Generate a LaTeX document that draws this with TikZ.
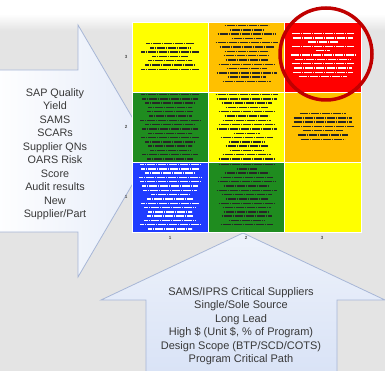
\documentclass[tikz,border=0pt]{standalone}
\usepackage{fontspec}
\setmainfont{Liberation Sans}
\definecolor{bggray}{HTML}{E4E4E4}
\definecolor{arrowblue}{HTML}{D8E2F6}
\definecolor{arrowedge}{HTML}{A7B6D6}
\definecolor{txtgray}{HTML}{383838}
\definecolor{riskyellow}{HTML}{FFFF00}
\definecolor{riskorange}{HTML}{FFC000}
\definecolor{riskred}{HTML}{FF0000}
\definecolor{riskgreen}{HTML}{1F8C1F}
\definecolor{riskblue}{HTML}{1F3CFF}
\definecolor{ringred}{HTML}{C00000}
\newcommand{\cellnotes}[4]{%
  \foreach \w [count=\i] in {#4}
    \draw[blur, #3] ([shift={({-\w/2},{#2+4.3*(\i-1)})}]#1.north) -- ++(\w,0);}
\begin{document}
\begin{tikzpicture}[x=1pt,y=-1pt,
    cell/.style={draw=white, line width=0.8pt, minimum width=76.3pt, minimum height=70pt, inner sep=0pt},
    blur/.style={line width=1.4pt, dash pattern=on 1.8pt off 0.4pt},
    drivertext/.style={align=center, text=txtgray, font=\fontsize{10.8}{13.5}\selectfont},
    ticklabel/.style={font=\bfseries\fontsize{4.5}{5}\selectfont, text=black!70, inner sep=0pt}]
	\useasboundingbox (0,0) rectangle (385,371);

	% background
	\fill[white] (0,0) rectangle (385,371);
	\fill[bggray] (0,30) rectangle (385,371);
	\shade[top color=white, bottom color=bggray] (0,14) rectangle (385,30.5);

	% arrows
	\shade[left color=white, middle color=arrowblue, right color=arrowblue!70!white, draw=arrowedge, line width=0.8pt]
		(-10,70) -- (78,70) -- (78,25) -- (152,151) -- (78,277) -- (78,232) -- (-10,232) -- cycle;
	\shade[top color=arrowblue!45!white, bottom color=arrowblue, draw=arrowedge, line width=0.8pt]
		(146,380) -- (146,300) -- (101,300) -- (243,233) -- (385,300) -- (337,300) -- (337,380) -- cycle;

	% matrix
	\node[cell, fill=riskyellow] (c11) at (170.2,57) {};
	\node[cell, fill=riskorange] (c12) at (246.5,57) {};
	\node[cell, fill=riskred] (c13) at (322.8,57) {};
	\node[cell, fill=riskgreen] (c21) at (170.2,127) {};
	\node[cell, fill=riskyellow] (c22) at (246.5,127) {};
	\node[cell, fill=riskorange] (c23) at (322.8,127) {};
	\node[cell, fill=riskblue] (c31) at (170.2,197) {};
	\node[cell, fill=riskgreen] (c32) at (246.5,197) {};
	\node[cell, fill=riskyellow] (c33) at (322.8,197) {};

	% cell contents
	\cellnotes{c11}{22}{black!85}{48,40,58,36,44,50,58}
	\cellnotes{c12}{4}{black!85}{44,34,58,30,62,54,44,46,42,56,40,60,38,48}
	\cellnotes{c13}{12}{white}{62,60,30,62,14,64,56,62,58,60,48}
	\cellnotes{c21}{3}{black!85}{58,56,50,44,46,42,60,50,56,44,58,50,44,40,56,46}
	\cellnotes{c22}{3}{black!85}{62,60,50,42,56,44,48,56,60,26,52,36,42,34,48,56}
	\cellnotes{c23}{22}{black!85}{46,58,58,62,40,50,44}
	\cellnotes{c31}{3}{white}{60,58,50,62,60,56,54,38,46,58,52,44,46,52,60,44}
	\cellnotes{c32}{3}{black!85}{56,20,44,52,58,46,60,50,42,56,48,46,50,36,52}

	% axis numbers
	\node[ticklabel] (l3) at (126,57) {3};
	\node[ticklabel] (l2) at (126,127) {2};
	\node[ticklabel] (l1) at (126,197) {1};
	\node[ticklabel] (b1) at (170,238) {1};
	\node[ticklabel] (b2) at (246,238) {2};
	\node[ticklabel] (b3) at (322,238) {3};

	% highlight
	\node[circle, draw=ringred, line width=3.5pt, minimum size=92pt, inner sep=0pt] (alert) at (326,54) {};

	% drivers
	\node[drivertext] (probability) at (55,154) {SAP Quality\\Yield\\SAMS\\SCARs\\Supplier QNs\\OARS Risk\\Score\\Audit results\\New\\Supplier/Part};
	\node[drivertext, font=\fontsize{11}{13.5}\selectfont] (impact) at (241,326) {SAMS/IPRS Critical Suppliers\\Single/Sole Source\\Long Lead\\High \$ (Unit \$, \% of Program)\\Design Scope (BTP/SCD/COTS)\\Program Critical Path};
\end{tikzpicture}
\end{document}
